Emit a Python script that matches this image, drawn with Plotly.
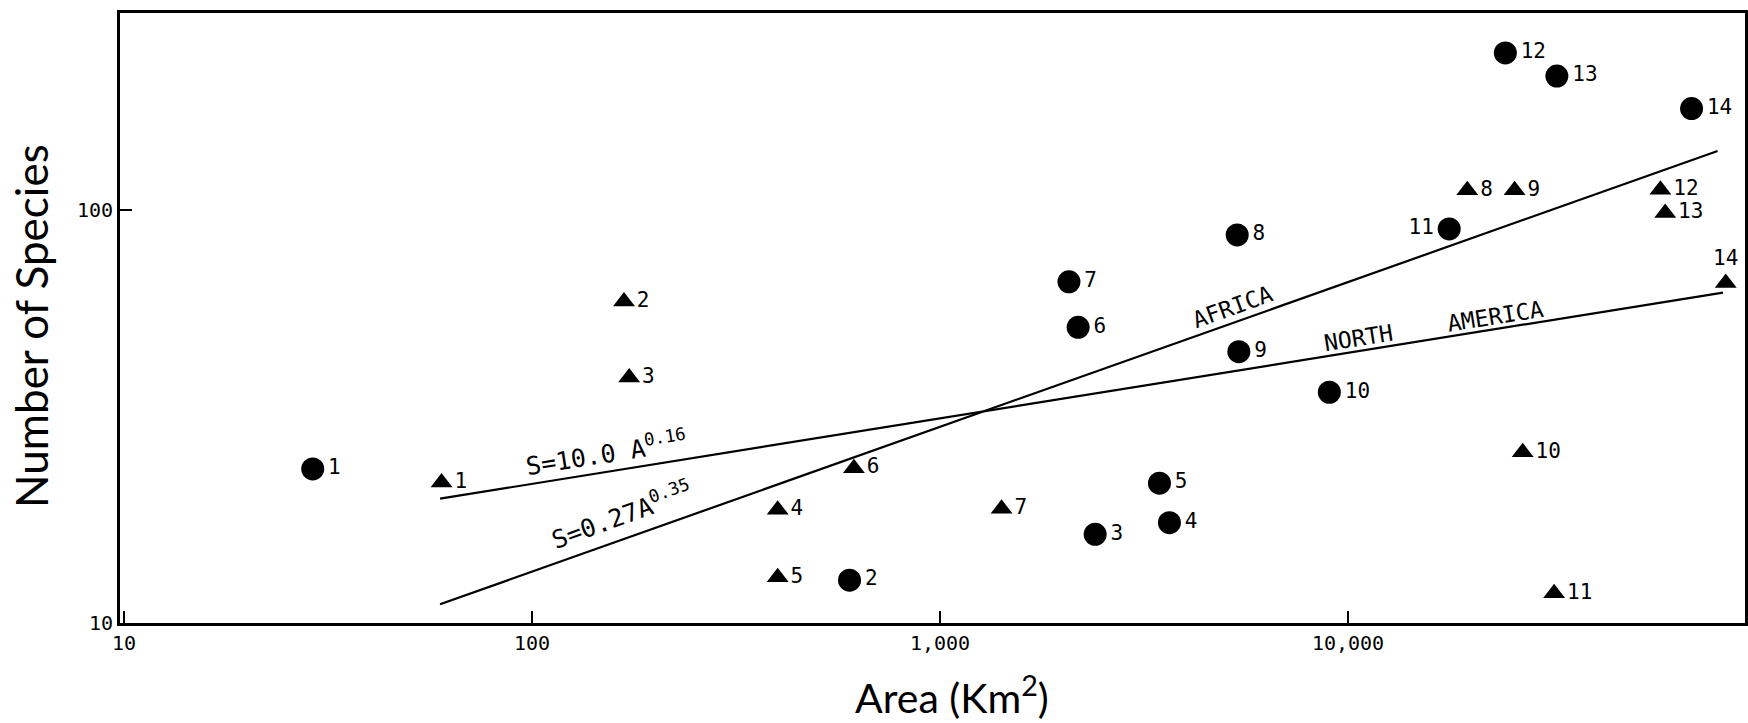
import plotly.graph_objects as go

# ---- data ----
africa_area = [29, 600, 2400, 3650, 3450, 2180, 2070, 5350, 5400, 9000, 17700, 24300, 32500, 69500]
africa_species = [23.6, 12.7, 16.4, 17.5, 21.8, 52, 67, 87, 45.4, 36.2, 90, 240, 211, 176]
africa_labels = ["1", "2", "3", "4", "5", "6", "7", "8", "9", "10", "11", "12", "13", "14"]

na_area = [60, 168, 173, 400, 400, 615, 1415, 19600, 25600, 26800, 32000, 58300, 59900, 84300]
na_species = [21.9, 60, 39.3, 18.8, 12.9, 23.7, 18.9, 111.6, 111.6, 25.9, 11.8, 112, 98.3, 66.6]
na_labels = ["1", "2", "3", "4", "5", "6", "7", "8", "9", "10", "11", "12", "13", "14"]

africa_fit_area = [59.5, 80500]
africa_fit_species = [11.1, 139]
na_fit_area = [59.5, 83000]
na_fit_species = [20.0, 63.1]

x_tickvals = [10, 100, 1000, 10000]
x_ticktext = ["10", "100", "1,000", "10,000"]
y_tickvals = [10, 100]
y_ticktext = ["10", "100"]

MONO = "DejaVu Sans Mono, Liberation Mono, monospace"
BIG = "Lato, Open Sans, sans-serif"

fig = go.Figure()

fig.add_trace(go.Scatter(x=africa_fit_area, y=africa_fit_species, mode="lines",
                         line=dict(color="black", width=2.2), showlegend=False, hoverinfo="skip"))
fig.add_trace(go.Scatter(x=na_fit_area, y=na_fit_species, mode="lines",
                         line=dict(color="black", width=2.2), showlegend=False, hoverinfo="skip"))

af_pos = ["middle right"] * len(africa_labels)
af_pos[10] = "middle left"
na_pos = ["middle right"] * len(na_labels)
na_pos[13] = "top center"

fig.add_trace(go.Scatter(x=africa_area, y=africa_species, mode="markers+text",
                         text=africa_labels, textposition=af_pos,
                         textfont=dict(family=MONO, size=21, color="black"),
                         marker=dict(symbol="circle", size=23, color="black"),
                         name="Africa", showlegend=False))
fig.add_trace(go.Scatter(x=na_area, y=na_species, mode="markers+text",
                         text=na_labels, textposition=na_pos,
                         textfont=dict(family=MONO, size=21, color="black"),
                         marker=dict(symbol="triangle-up", size=19, color="black"),
                         cliponaxis=False,
                         name="North America", showlegend=False))

eq_font = dict(family=MONO, size=25, color="black")
lab_font = dict(family=MONO, size=23, color="black")
annotations = [
    dict(x=2.183, y=1.413, xref="x", yref="y", text="S=10.0 A<sup>0.16</sup>",
         textangle=-9, showarrow=False, font=eq_font),
    dict(x=2.22, y=1.262, xref="x", yref="y", text="S=0.27A<sup>0.35</sup>",
         textangle=-20, showarrow=False, font=eq_font),
    dict(x=3.716, y=1.765, xref="x", yref="y", text="AFRICA",
         textangle=-20, showarrow=False, font=lab_font),
    dict(x=4.21, y=1.719, xref="x", yref="y", text="NORTH&nbsp;&nbsp;&nbsp;&nbsp;AMERICA",
         textangle=-9, showarrow=False, font=lab_font),
    dict(x=0.512, y=0, xref="paper", yref="paper", yshift=-72, text="Area (Km<sup>2</sup>)",
         showarrow=False, font=dict(family=BIG, size=41, color="black"),
         xanchor="center", yanchor="middle"),
    dict(x=0, y=0.487, xref="paper", yref="paper", xshift=-89, text="Number of Species",
         textangle=-90, showarrow=False, font=dict(family=BIG, size=44, color="black"),
         xanchor="center", yanchor="middle"),
]

fig.update_layout(
    width=1748, height=723,
    margin=dict(l=120, r=3, t=13, b=100, autoexpand=False),
    paper_bgcolor="white", plot_bgcolor="white",
    annotations=annotations,
    showlegend=False,
)
fig.update_xaxes(type="log", range=[0.99, 4.973], tickvals=x_tickvals, ticktext=x_ticktext,
                 ticks="inside", ticklen=12, tickwidth=2, tickcolor="black",
                 showline=True, linecolor="black", linewidth=3, mirror=True,
                 showgrid=False, zeroline=False, automargin=False,
                 tickfont=dict(family=MONO, size=20, color="black"))
fig.update_yaxes(type="log", range=[1, 2.477], tickvals=y_tickvals, ticktext=y_ticktext,
                 ticks="inside", ticklen=12, tickwidth=2, tickcolor="black",
                 showline=True, linecolor="black", linewidth=3, mirror=True,
                 showgrid=False, zeroline=False, automargin=False,
                 tickfont=dict(family=MONO, size=20, color="black"))

fig.write_html("out.html", config={"displayModeBar": False},
               post_script="document.body.style.margin='0';document.body.style.overflow='hidden';")
